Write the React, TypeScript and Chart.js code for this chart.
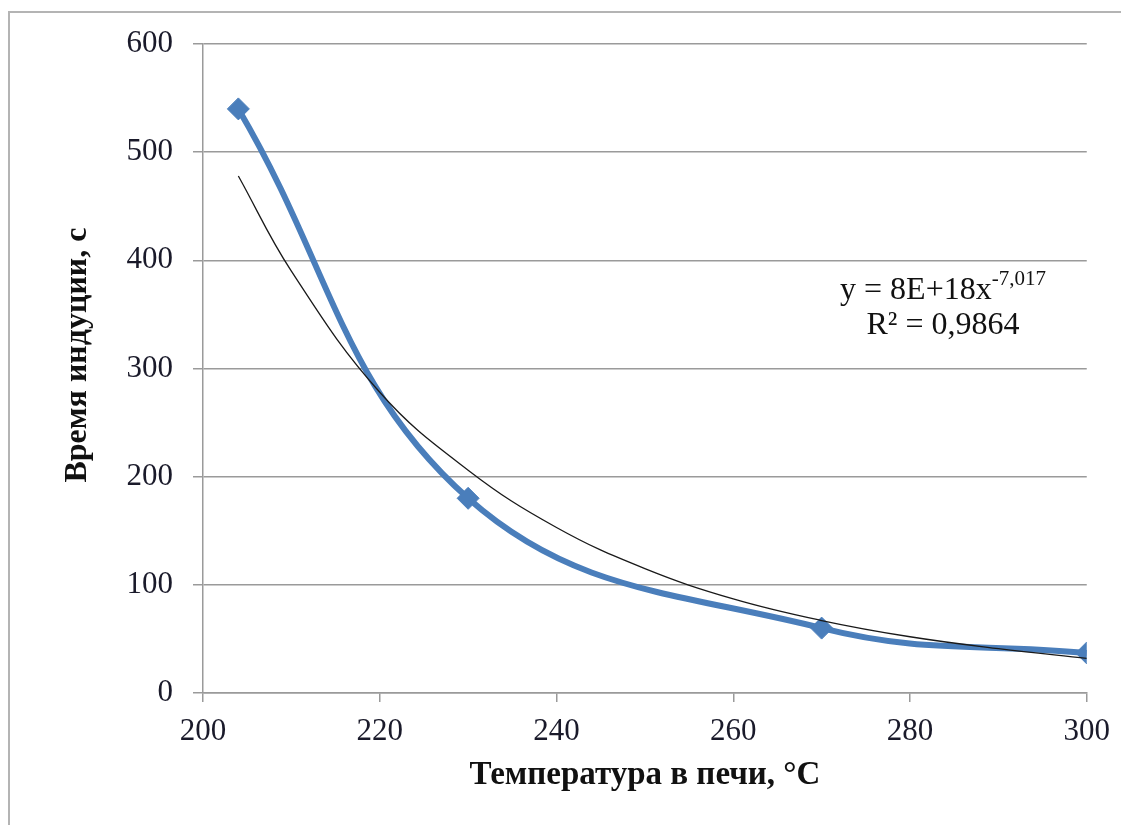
import React, { useEffect, useRef } from "react";
import { Chart, registerables } from "chart.js";

Chart.register(...registerables);

// Measured series: induction time vs furnace temperature
const tempValues = [204, 230, 270, 300];
const timeValues = [540, 180, 60, 37];

// Power trendline
const trendTemps = [204, 210, 220, 230, 240, 250, 260, 270, 280, 290, 300];
const trendTimes = [478, 390, 278, 206, 153, 115, 87, 67, 52, 41, 32];

const xMin = 200;
const xMax = 300;
const xStep = 20;
const yMin = 0;
const yMax = 600;
const yStep = 100;

const xTitle = "Температура в печи, °С";
const yTitle = "Время индуции, с";
const eqMain = "y = 8E+18x";
const eqExp = "-7,017";
const r2Text = "R² = 0,9864";

const FONT = "'Liberation Serif', 'Times New Roman', serif";
const GRID = "#9a9a9a";
const BLUE = "#4A7EBB";

const titlesPlugin = {
  id: "titlesPlugin",
  afterDraw(chart: any) {
    const ctx = chart.ctx as CanvasRenderingContext2D;
    const area = chart.chartArea;
    ctx.save();
    ctx.fillStyle = "#111";
    ctx.font = `bold 33px ${FONT}`;
    ctx.textAlign = "center";
    ctx.textBaseline = "alphabetic";
    ctx.fillText(xTitle, (area.left + area.right) / 2, 784);

    ctx.save();
    ctx.font = `bold 32px ${FONT}`;
    ctx.translate(86, 355);
    ctx.rotate(-Math.PI / 2);
    ctx.fillText(yTitle, 0, 0);
    ctx.restore();

    // trendline equation
    const cx = 943;
    ctx.font = `32px ${FONT}`;
    const wMain = ctx.measureText(eqMain).width;
    ctx.font = `21px ${FONT}`;
    const wExp = ctx.measureText(eqExp).width;
    const start = cx - (wMain + wExp) / 2;
    ctx.textAlign = "left";
    ctx.font = `32px ${FONT}`;
    ctx.fillText(eqMain, start, 299);
    ctx.font = `21px ${FONT}`;
    ctx.fillText(eqExp, start + wMain, 285);
    ctx.font = `32px ${FONT}`;
    ctx.textAlign = "center";
    ctx.fillText(r2Text, cx, 334);
    ctx.restore();
  },
};

export default function App() {
  const canvasRef = useRef<HTMLCanvasElement | null>(null);

  useEffect(() => {
    if (!canvasRef.current) return;
    const chart = new Chart(canvasRef.current, {
      type: "line",
      data: {
        datasets: [
          {
            label: "trend",
            data: trendTemps.map((x, i) => ({ x, y: trendTimes[i] })),
            borderColor: "#1a1a1a",
            borderWidth: 1.3,
            pointRadius: 0,
            tension: 0.4,
            fill: false,
            order: 0,
          },
          {
            label: "data",
            data: tempValues.map((x, i) => ({ x, y: timeValues[i] })),
            borderColor: BLUE,
            backgroundColor: BLUE,
            borderWidth: 6,
            pointStyle: "rectRot",
            pointRadius: 11,
            pointBorderWidth: 1,
            pointBorderColor: BLUE,
            pointBackgroundColor: BLUE,
            tension: 0.4,
            fill: false,
            order: 1,
          },
        ],
      },
      options: {
        animation: false,
        responsive: false,
        maintainAspectRatio: false,
        layout: { padding: { left: 0, top: 44, right: 33, bottom: 0 } },
        plugins: {
          legend: { display: false },
          tooltip: { enabled: false },
        },
        scales: {
          x: {
            type: "linear",
            min: xMin,
            max: xMax,
            afterFit: (s: any) => {
              s.height = 132;
            },
            ticks: {
              stepSize: xStep,
              color: "#1a1a2a",
              font: { family: FONT, size: 31 },
              padding: 11,
              maxRotation: 0,
            },
            grid: {
              drawOnChartArea: false,
              drawTicks: true,
              tickLength: 9,
              color: GRID,
              lineWidth: 1.5,
            },
            border: { display: true, color: GRID, width: 1.5 },
          },
          y: {
            type: "linear",
            min: yMin,
            max: yMax,
            afterFit: (s: any) => {
              s.width = 203;
            },
            ticks: {
              stepSize: yStep,
              color: "#1a1a2a",
              font: { family: FONT, size: 31 },
              padding: 20,
            },
            grid: {
              drawTicks: true,
              tickLength: 10,
              color: GRID,
              lineWidth: 1.5,
            },
            border: { display: true, color: GRID, width: 1.5 },
          },
        },
      },
      plugins: [titlesPlugin],
    });
    return () => chart.destroy();
  }, []);

  return (
    <div
      style={{
        position: "fixed",
        left: 0,
        top: 0,
        width: 1121,
        height: 825,
        overflow: "hidden",
        background: "#fff",
      }}
    >
      <div
        style={{
          position: "absolute",
          left: 8,
          top: 11,
          width: 1300,
          height: 1000,
          borderLeft: "2px solid #b4b4b4",
          borderTop: "2px solid #b4b4b4",
        }}
      />
      <canvas
        ref={canvasRef}
        width={1121}
        height={825}
        style={{ position: "absolute", left: 0, top: 0, width: 1121, height: 825 }}
      />
    </div>
  );
}
